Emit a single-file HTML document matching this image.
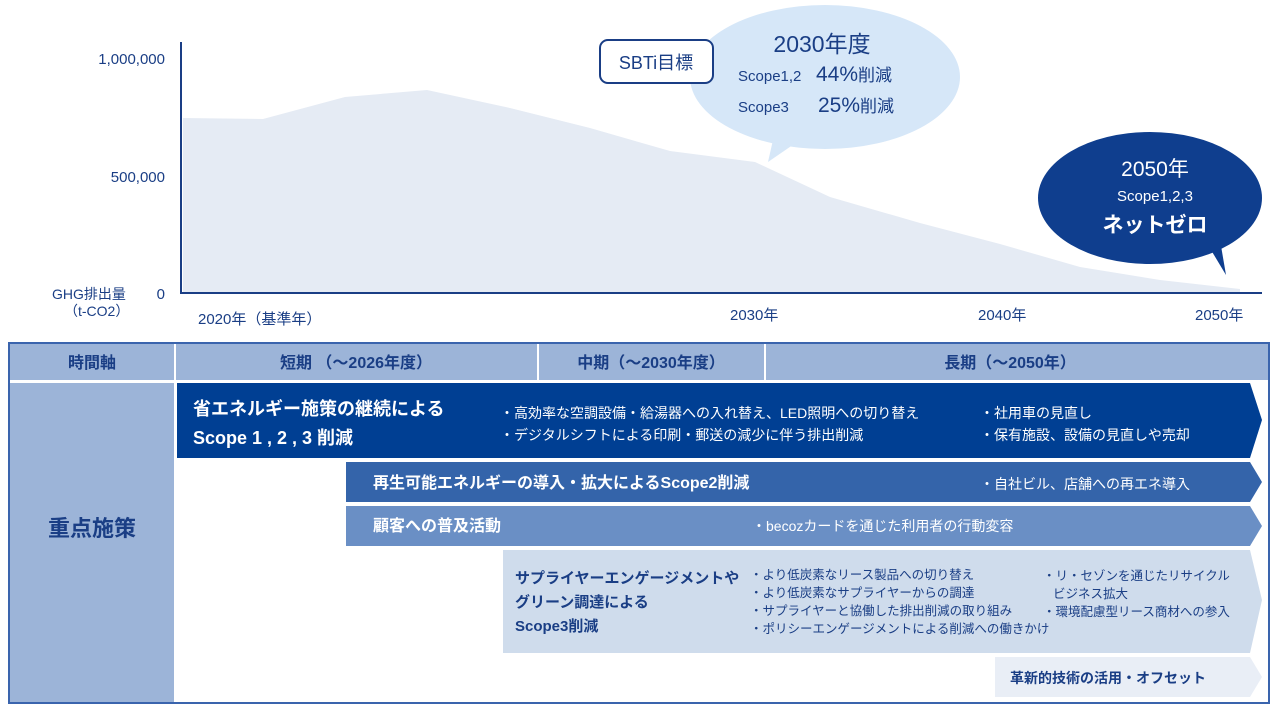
<!DOCTYPE html>
<html><head><meta charset="utf-8"><style>
body{margin:0;width:1280px;height:708px;background:#fff;overflow:hidden;font-family:"Liberation Sans","Noto Sans CJK JP",sans-serif;}
</style></head><body>
<svg width="1280" height="708" xmlns="http://www.w3.org/2000/svg" style="position:absolute;left:0;top:0;font-family:'Liberation Sans','Noto Sans CJK JP',sans-serif">
<polygon points="183,293 183,118 263,119 345,97 427,90 510,108 590,128 670,151 755,162 830,197 920,223 1000,244 1080,267 1160,280 1240,289 1240,293" fill="#e5ebf4"/>
<line x1="181" y1="42" x2="181" y2="294" stroke="#1a3e85" stroke-width="2"/>
<line x1="181" y1="293" x2="1262" y2="293" stroke="#1a3e85" stroke-width="2"/>
<g fill="#1a3e85" font-size="15">
<text x="165" y="64" text-anchor="end">1,000,000</text>
<text x="165" y="182" text-anchor="end">500,000</text>
<text x="165" y="299" text-anchor="end">0</text>
<text x="52" y="299" font-size="14">GHG排出量</text>
<text x="64" y="316" font-size="14">（t-CO2）</text>
<text x="198" y="324">2020年（基準年）</text>
<text x="730" y="320">2030年</text>
<text x="978" y="320">2040年</text>
<text x="1195" y="320">2050年</text>
</g>
<ellipse cx="825" cy="77" rx="135" ry="72" fill="#d6e7f8"/>
<polygon points="773,140 800,140 768,162" fill="#d6e7f8"/>
<rect x="600" y="40" width="113" height="43" rx="8" fill="#fff" stroke="#1a3e85" stroke-width="2"/>
<text x="656" y="69" text-anchor="middle" fill="#1a3e85" font-size="18">SBTi目標</text>
<g fill="#1a3e85">
<text x="822" y="52" text-anchor="middle" font-size="23">2030年度</text>
<text x="738" y="81" font-size="15">Scope1,2</text>
<text x="816" y="81" font-size="21">44%<tspan font-size="17">削減</tspan></text>
<text x="738" y="112" font-size="15">Scope3</text>
<text x="818" y="112" font-size="21">25%<tspan font-size="17">削減</tspan></text>
</g>
<ellipse cx="1150" cy="198" rx="112" ry="66" fill="#0f3e8e"/>
<polygon points="1205,240 1220,240 1226,275" fill="#0f3e8e"/>
<g fill="#fff" text-anchor="middle">
<text x="1155" y="176" font-size="21">2050年</text>
<text x="1155" y="201" font-size="15">Scope1,2,3</text>
<text x="1155" y="232" font-size="21" font-weight="bold">ネットゼロ</text>
</g>
<rect x="9" y="343" width="1260" height="360" fill="#fff" stroke="#3a64ad" stroke-width="2"/>
<rect x="10" y="344" width="1258" height="36" fill="#9cb4d8"/>
<rect x="10" y="383" width="164" height="319" fill="#9cb4d8"/>
<g stroke="#fff" stroke-width="2"><line x1="175" y1="344" x2="175" y2="380"/><line x1="538" y1="344" x2="538" y2="380"/><line x1="765" y1="344" x2="765" y2="380"/></g>
<g fill="#1a3e85" font-size="16" text-anchor="middle" font-weight="bold">
<text x="92" y="368">時間軸</text>
<text x="356" y="368">短期 （～2026年度）</text>
<text x="651" y="368">中期（～2030年度）</text>
<text x="1010" y="368">長期（～2050年）</text>
<text x="92" y="536" font-size="22">重点施策</text>
</g>
<polygon points="177,383 1250,383 1262,420 1250,458 177,458" fill="#003f93"/>
<polygon points="346,462 1250,462 1262,482 1250,502 346,502" fill="#3464aa"/>
<polygon points="346,506 1250,506 1262,526 1250,546 346,546" fill="#6a8fc5"/>
<polygon points="503,550 1250,550 1262,600 1250,653 503,653" fill="#cfdcec"/>
<polygon points="995,657 1250,657 1262,677 1250,697 995,697" fill="#e9eef6"/>
<g fill="#fff">
<text x="193" y="415" font-size="18" font-weight="bold">省エネルギー施策の継続による</text>
<text x="193" y="444" font-size="18" font-weight="bold">Scope 1 , 2 , 3 削減</text>
<text x="500" y="418" font-size="14">・高効率な空調設備・給湯器への入れ替え、LED照明への切り替え</text>
<text x="500" y="440" font-size="14">・デジタルシフトによる印刷・郵送の減少に伴う排出削減</text>
<text x="980" y="418" font-size="14">・社用車の見直し</text>
<text x="980" y="440" font-size="14">・保有施設、設備の見直しや売却</text>
<text x="373" y="488" font-size="16" font-weight="bold">再生可能エネルギーの導入・拡大によるScope2削減</text>
<text x="980" y="489" font-size="14">・自社ビル、店舗への再エネ導入</text>
<text x="373" y="531" font-size="16" font-weight="bold">顧客への普及活動</text>
<text x="752" y="531" font-size="14">・becozカードを通じた利用者の行動変容</text>
</g>
<g fill="#1a3e85">
<text x="515" y="583" font-size="15" font-weight="bold">サプライヤーエンゲージメントや</text>
<text x="515" y="607" font-size="15" font-weight="bold">グリーン調達による</text>
<text x="515" y="631" font-size="15" font-weight="bold">Scope3削減</text>
<g font-size="12.5">
<text x="750" y="579">・より低炭素なリース製品への切り替え</text>
<text x="750" y="597">・より低炭素なサプライヤーからの調達</text>
<text x="750" y="615">・サプライヤーと協働した排出削減の取り組み</text>
<text x="750" y="633">・ポリシーエンゲージメントによる削減への働きかけ</text>
<text x="1043" y="580">・リ・セゾンを通じたリサイクル</text>
<text x="1053" y="598">ビジネス拡大</text>
<text x="1043" y="616">・環境配慮型リース商材への参入</text>
</g>
<text x="1010" y="683" font-size="14" font-weight="bold">革新的技術の活用・オフセット</text>
</g>
</svg>
</body></html>
